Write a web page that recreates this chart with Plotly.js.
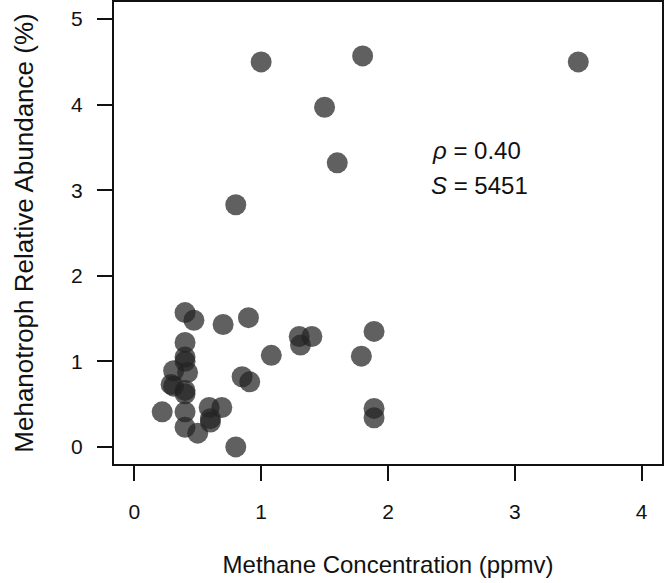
<!DOCTYPE html>
<html>
<head>
<meta charset="utf-8">
<script src="https://cdn.plot.ly/plotly-3.0.1.min.js"></script>
<style>
  html, body { margin: 0; padding: 0; background: #fff; }
  #chart { width: 666px; height: 583px; }
</style>
</head>
<body>
<div id="chart"></div>
<script>
// methane concentration (ppmv) vs methanotroph relative abundance (%)
const methane = [
  1.0, 1.8, 3.5, 1.5, 1.6, 0.8,
  0.4, 0.47, 0.7, 0.9, 0.4, 0.4, 0.4, 0.31, 0.42, 0.29, 0.31, 0.4, 0.4,
  0.22, 0.4, 0.4, 0.5, 0.59, 0.69, 0.6, 0.6, 0.8,
  0.85, 0.91, 1.08, 1.3, 1.31, 1.4,
  1.89, 1.79, 1.89, 1.89
];
const abundance = [
  4.5, 4.57, 4.5, 3.97, 3.32, 2.83,
  1.57, 1.48, 1.43, 1.51, 1.22, 1.05, 1.0, 0.89, 0.87, 0.73, 0.71, 0.66, 0.62,
  0.41, 0.41, 0.23, 0.16, 0.46, 0.46, 0.33, 0.29, 0.0,
  0.82, 0.76, 1.07, 1.29, 1.19, 1.29,
  1.35, 1.06, 0.45, 0.34
];

const rho = '0.40';
const S = '5451';

const font = 'Liberation Sans, Arial, sans-serif';

Plotly.newPlot('chart', [{
  x: methane,
  y: abundance,
  mode: 'markers',
  type: 'scatter',
  marker: { size: 21, color: 'rgba(35,35,35,0.72)', line: { width: 0 } },
  showlegend: false,
  hoverinfo: 'x+y'
}], {
  width: 666,
  height: 583,
  margin: { l: 114, r: 4, t: 2, b: 119 },
  paper_bgcolor: '#fff',
  plot_bgcolor: '#fff',
  font: { family: font, color: '#111', size: 21 },
  xaxis: {
    range: [-0.16, 4.16],
    tickvals: [0, 1, 2, 3, 4],
    ticks: 'outside', ticklen: 15, tickwidth: 2, tickcolor: '#111',
    ticklabelstandoff: 13,
    showline: true, mirror: true, linewidth: 2, linecolor: '#111',
    showgrid: false, zeroline: false,
    title: { text: 'Methane Concentration (ppmv)', font: { size: 24 }, standoff: 34 }
  },
  yaxis: {
    range: [-0.2, 5.2],
    tickvals: [0, 1, 2, 3, 4, 5],
    ticks: 'outside', ticklen: 15, tickwidth: 2, tickcolor: '#111',
    ticklabelstandoff: 10,
    showline: true, mirror: true, linewidth: 2, linecolor: '#111',
    showgrid: false, zeroline: false,
    title: { text: 'Mehanotroph Relative Abundance (%)', font: { size: 26 }, standoff: 30 }
  },
  annotations: [
    { x: 2.33, y: 3.47, xref: 'x', yref: 'y', xanchor: 'left', yanchor: 'middle',
      text: '<i>ρ</i> = ' + rho, showarrow: false, font: { size: 24 } },
    { x: 2.32, y: 3.05, xref: 'x', yref: 'y', xanchor: 'left', yanchor: 'middle',
      text: '<i>S</i> = ' + S, showarrow: false, font: { size: 24 } }
  ]
}, { displayModeBar: false, staticPlot: true });
</script>
</body>
</html>
